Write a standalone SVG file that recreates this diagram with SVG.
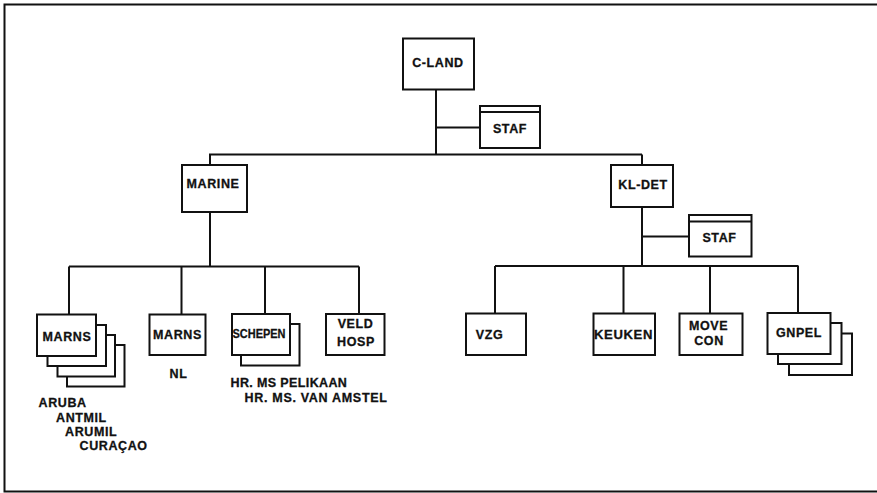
<svg xmlns="http://www.w3.org/2000/svg" width="877" height="493" viewBox="0 0 877 493">
<style>
.b{fill:#fff;stroke:#111;stroke-width:2}
.l{fill:none;stroke:#111;stroke-width:2}
text{font-family:"Liberation Sans",Arial,sans-serif;font-weight:bold;font-size:12.5px;fill:#111;stroke:#111;stroke-width:0.3;letter-spacing:0.6px}
.c{text-anchor:middle}
</style>
<rect width="877" height="493" fill="#fff"/>
<g id="frame">
<path class="l" d="M877 4.5H4.5V491.5H877"/>
</g>
<g id="connectors">
<path class="l" d="M436 89V154.5M436 127.5H480M209 154.5H642M210 154.5V165M642 154.5V165"/>
<path class="l" d="M210 212V266.5M69 266.5H359M69 266.5V314M181.5 266.5V314M265 266.5V314M359 266.5V314"/>
<path class="l" d="M642 207V266M642 236.5H689M495 266H798.5M495 266V313M623.5 266V313M710 266V313M798 266V313"/>
</g>
<g id="c-land">
<rect class="b" x="403" y="38.5" width="71" height="51"/>
<text class="c" x="438" y="67">C-LAND</text>
</g>
<g id="staf-1">
<rect class="b" x="480" y="106" width="60" height="42"/>
<path class="l" d="M480 112H540"/>
<text class="c" x="510" y="132.5">STAF</text>
</g>
<g id="marine">
<rect class="b" x="182" y="165" width="65" height="47"/>
<text class="c" x="213" y="188">MARINE</text>
</g>
<g id="kl-det">
<rect class="b" x="611" y="165" width="62" height="42"/>
<text class="c" x="643" y="189">KL-DET</text>
</g>
<g id="staf-2">
<rect class="b" x="689" y="215" width="62.5" height="41.5"/>
<path class="l" d="M689 221.5H751.5"/>
<text class="c" x="719.5" y="242">STAF</text>
</g>
<g id="marns-stack">
<rect class="b" x="67" y="345" width="57.5" height="41.5"/>
<rect class="b" x="57.5" y="335" width="57.5" height="41.5"/>
<rect class="b" x="47.5" y="325" width="58.5" height="41"/>
<rect class="b" x="37" y="314.5" width="59" height="41.5"/>
<text class="c" x="67" y="340.5">MARNS</text>
<text x="38.5" y="407">ARUBA</text>
<text x="56" y="422">ANTMIL</text>
<text x="65" y="436">ARUMIL</text>
<text x="79.5" y="450">CURAÇAO</text>
</g>
<g id="marns-nl">
<rect class="b" x="149.5" y="314.5" width="56" height="40.5"/>
<text class="c" x="177.5" y="338.5">MARNS</text>
<text class="c" x="178.5" y="378">NL</text>
</g>
<g id="schepen">
<rect class="b" x="241" y="324" width="58.5" height="41.5"/>
<rect class="b" x="232" y="314" width="58" height="41"/>
<text x="232.5" y="337.5" textLength="53" lengthAdjust="spacingAndGlyphs" style="letter-spacing:0">SCHEPEN</text>
<text x="230.5" y="386.5" textLength="117" lengthAdjust="spacing">HR. MS PELIKAAN</text>
<text x="244.5" y="401.5" textLength="143" lengthAdjust="spacing">HR. MS. VAN AMSTEL</text>
</g>
<g id="veld-hosp">
<rect class="b" x="326" y="314" width="58.5" height="41"/>
<text class="c" x="355.5" y="327.5">VELD</text>
<text class="c" x="356" y="345.5">HOSP</text>
</g>
<g id="vzg">
<rect class="b" x="466" y="313.5" width="60" height="41.5"/>
<text class="c" x="489.5" y="338.5">VZG</text>
</g>
<g id="keuken">
<rect class="b" x="593.5" y="313.5" width="61.5" height="41.5"/>
<text x="594" y="339" textLength="59" lengthAdjust="spacingAndGlyphs">KEUKEN</text>
</g>
<g id="move-con">
<rect class="b" x="679.5" y="313.5" width="63" height="41.5"/>
<text class="c" x="708.5" y="330">MOVE</text>
<text class="c" x="709" y="345">CON</text>
</g>
<g id="gnpel-stack">
<rect class="b" x="789" y="333.5" width="63" height="41.5"/>
<rect class="b" x="778" y="323" width="63.5" height="41"/>
<rect class="b" x="767.5" y="313" width="63" height="41"/>
<text class="c" x="799" y="336.5">GNPEL</text>
</g>
</svg>
